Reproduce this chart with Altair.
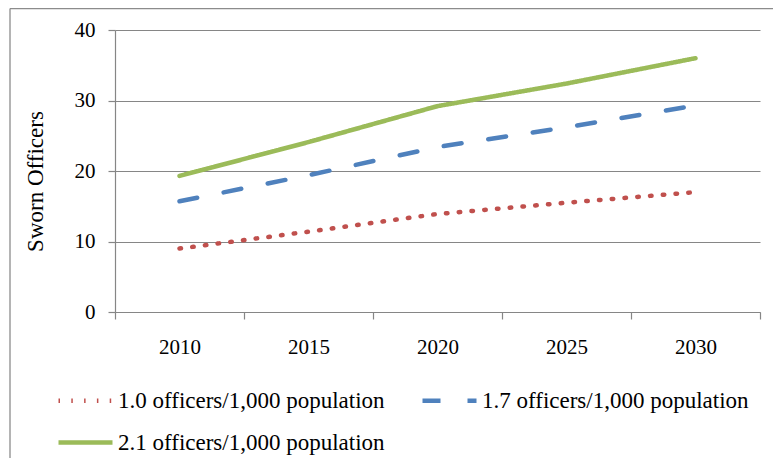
import altair as alt
import pandas as pd

years = ["2010", "2015", "2020", "2025", "2030"]
series_names = [
    "1.0 officers/1,000 population",
    "1.7 officers/1,000 population",
    "2.1 officers/1,000 population",
]
vals_10 = [9.0, 11.4, 13.9, 15.5, 17.0]
vals_17 = [15.7, 19.4, 23.4, 26.2, 29.3]
vals_21 = [19.3, 24.1, 29.2, 32.4, 36.0]

colors = ["#C0504D", "#4F81BD", "#9BBB59"]
dashes = [[1.5, 11.3], [18, 27], [1, 0]]

rows = []
for name, vals in zip(series_names, [vals_10, vals_17, vals_21]):
    for y, v in zip(years, vals):
        rows.append({"year": y, "series": name, "value": v})
df = pd.DataFrame(rows)

FONT = "Liberation Serif, DejaVu Serif, serif"
GRAY = "#868686"

frame_df = pd.DataFrame({"k": [0]})

legend = alt.Legend(
    title=None,
    orient="none",
    direction="horizontal",
    legendX=-59,
    legendY=341,
    columns=2,
    symbolType="stroke",
    symbolSize=2916,
    symbolStrokeWidth=4.5,
    labelFont=FONT,
    labelFontSize=23,
    labelColor="#000000",
    labelLimit=600,
    labelOffset=3,
    columnPadding=28,
    rowPadding=-21,
    padding=0,
)

lines = (
    alt.Chart(df)
    .mark_line(strokeWidth=4.5, strokeCap="round", strokeJoin="round")
    .encode(
        x=alt.X(
            "year:O",
            sort=years,
            bandPosition=0.5,
            scale=alt.Scale(type="band", paddingInner=0, paddingOuter=0),
            axis=alt.Axis(
                title=None,
                labelAngle=0,
                grid=False,
                tickBand="extent",
                labelPadding=17,
                labelFont=FONT,
                labelFontSize=21,
            ),
        ),
        y=alt.Y(
            "value:Q",
            scale=alt.Scale(domain=[0, 40]),
            axis=alt.Axis(
                values=[0, 10, 20, 30, 40],
                title="Sworn Officers",
                titleFont=FONT,
                titleFontSize=23,
                titleFontWeight="normal",
                titleColor="#000000",
                titleAngle=270,
                titleX=-73,
                titleY=151,
                titleAlign="center",
                titleBaseline="alphabetic",
                labelPadding=13,
                labelFont=FONT,
                labelFontSize=21,
            ),
        ),
        color=alt.Color(
            "series:N",
            scale=alt.Scale(domain=series_names, range=colors),
            legend=legend,
        ),
        strokeDash=alt.StrokeDash(
            "series:N",
            scale=alt.Scale(domain=series_names, range=dashes),
            legend=legend,
        ),
    )
)

frame_left = alt.Chart(frame_df).mark_rule(color="#8c8c8c", strokeWidth=1.3).encode(
    x=alt.value(-105), y=alt.value(-21.5), y2=alt.value(440)
)
frame_top = alt.Chart(frame_df).mark_rule(color="#8c8c8c", strokeWidth=1.3).encode(
    x=alt.value(-105), x2=alt.value(660), y=alt.value(-21.5)
)

chart = (
    alt.layer(frame_left, frame_top, lines)
    .properties(
        width=645,
        height=282,
        padding={"left": 107, "top": 22, "right": 13, "bottom": 146},
        autosize=alt.AutoSizeParams(type="none"),
        background="#ffffff",
    )
    .configure(font=FONT)
    .configure_view(strokeWidth=0)
    .configure_axis(
        domainColor=GRAY,
        tickColor=GRAY,
        gridColor=GRAY,
        domainWidth=1.2,
        tickWidth=1.2,
        gridWidth=1.2,
        tickSize=7,
        labelFont=FONT,
        labelFontSize=21,
        labelColor="#000000",
    )
)

chart.save("out.html", embed_options={"renderer": "svg", "actions": False})
